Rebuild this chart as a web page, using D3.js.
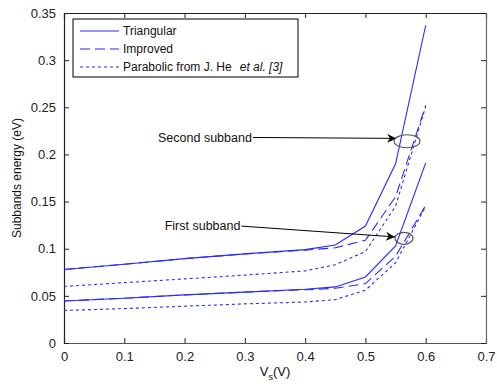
<!DOCTYPE html>
<html><head><meta charset="utf-8">
<script src="https://cdn.jsdelivr.net/npm/d3@7"></script>
<style>body{margin:0;background:#fff;} svg{display:block;font-family:"Liberation Sans",Arial,sans-serif;}</style>
</head><body><svg id="c" width="497" height="384"></svg>
<script>
const vs = [0, 0.1, 0.2, 0.3, 0.4, 0.45, 0.5, 0.55, 0.6];
const triSecond = [0.078, 0.0835, 0.0895, 0.0945, 0.099, 0.104, 0.124, 0.190, 0.337];
const triFirst  = [0.0445, 0.0475, 0.051, 0.054, 0.057, 0.0595, 0.070, 0.103, 0.191];
const impSecond = [0.078, 0.0835, 0.0895, 0.0945, 0.0985, 0.101, 0.109, 0.155, 0.252];
const impFirst  = [0.0445, 0.0475, 0.051, 0.054, 0.0565, 0.058, 0.063, 0.092, 0.146];
const parSecond = [0.060, 0.064, 0.068, 0.072, 0.0765, 0.083, 0.097, 0.145, 0.251];
const parFirst  = [0.0345, 0.0365, 0.039, 0.0415, 0.0435, 0.046, 0.056, 0.085, 0.145];
const xTicks = [0, 0.1, 0.2, 0.3, 0.4, 0.5, 0.6, 0.7];
const yTicks = [0, 0.05, 0.1, 0.15, 0.2, 0.25, 0.3, 0.35];
const legendLabels = ["Triangular", "Improved", "Parabolic from J. He"];
const annotations = [
  {text: "Second subband", tx: 0.156, ty: 0.218, ax: 0.551, ay: 0.217, cx: 0.569, cy: 0.214, rx: 13, ry: 6.5},
  {text: "First subband", tx: 0.167, ty: 0.124, ax: 0.549, ay: 0.1125, cx: 0.564, cy: 0.111, rx: 9, ry: 6}
];

const svg = d3.select("#c");
const L = 64, R = 486, T = 13, B = 343;
const x = d3.scaleLinear().domain([0, 0.7]).range([L, R]);
const y = d3.scaleLinear().domain([0, 0.35]).range([B, T]);
const blue = "#2a2aff";

const fmt = d => d === 0 ? "0" : d3.format("")(+d.toFixed(2));
const gx = svg.append("g").attr("transform", `translate(0,${B})`)
  .call(d3.axisBottom(x).tickValues(xTicks).tickSize(-5).tickPadding(9).tickFormat(fmt));
const gxt = svg.append("g").attr("transform", `translate(0,${T})`)
  .call(d3.axisTop(x).tickValues(xTicks).tickSize(-5).tickFormat(""));
const gy = svg.append("g").attr("transform", `translate(${L},0)`)
  .call(d3.axisLeft(y).tickValues(yTicks).tickSize(-5).tickPadding(8).tickFormat(fmt));
const gyr = svg.append("g").attr("transform", `translate(${R},0)`)
  .call(d3.axisRight(y).tickValues(yTicks).tickSize(-5).tickFormat(""));
[gx, gxt, gy, gyr].forEach(g => {
  g.select(".domain").attr("stroke", "#222").attr("stroke-width", 1.2);
  g.selectAll(".tick line").attr("stroke", "#222");
  g.selectAll("text").attr("font-size", 13).attr("fill", "#222")
   .attr("font-family", '"Liberation Sans",Arial,sans-serif');
});
gyr.select(".domain").attr("stroke", "#666");
gx.select(".domain").attr("stroke", "#555");

const line = d3.line().x((d, i) => x(vs[i])).y(d => y(d));
const series = [
  {v: triSecond, dash: null}, {v: triFirst, dash: null},
  {v: impSecond, dash: "10,5"}, {v: impFirst, dash: "10,5"},
  {v: parSecond, dash: "3,3"}, {v: parFirst, dash: "3,3"}
];
series.forEach(s => {
  svg.append("path").attr("d", line(s.v)).attr("fill", "none")
    .attr("stroke", blue).attr("stroke-width", 1.1)
    .attr("stroke-dasharray", s.dash);
});

svg.append("defs").append("marker").attr("id", "ah").attr("viewBox", "0 0 10 10")
  .attr("refX", 10).attr("refY", 5).attr("markerWidth", 12).attr("markerHeight", 9)
  .attr("markerUnits", "userSpaceOnUse").attr("orient", "auto")
  .append("path").attr("d", "M0,0 L10,5 L0,10 L3,5 Z").attr("fill", "#000");
annotations.forEach(a => {
  const t = svg.append("text").attr("x", x(a.tx)).attr("y", y(a.ty)).attr("dy", "0.35em")
    .attr("font-size", 12.5).attr("fill", "#111").text(a.text);
  const w = t.node().getComputedTextLength();
  svg.append("line").attr("x1", x(a.tx) + w + 1).attr("y1", y(a.ty))
    .attr("x2", x(a.ax)).attr("y2", y(a.ay)).attr("stroke", "#000").attr("stroke-width", 1)
    .attr("marker-end", "url(#ah)");
  svg.append("ellipse").attr("cx", x(a.cx)).attr("cy", y(a.cy)).attr("rx", a.rx).attr("ry", a.ry)
    .attr("fill", "none").attr("stroke", "#555").attr("stroke-width", 1.2);
});

const lg = svg.append("g");
lg.append("rect").attr("x", 73).attr("y", 19).attr("width", 225).attr("height", 58)
  .attr("fill", "#fff").attr("stroke", "#000").attr("stroke-width", 1);
const dashes = [null, "10,5", "3,3"];
legendLabels.forEach((lab, i) => {
  const yy = 31 + i * 18;
  lg.append("line").attr("x1", 80).attr("x2", 119).attr("y1", yy).attr("y2", yy)
    .attr("stroke", blue).attr("stroke-width", 1.1).attr("stroke-dasharray", dashes[i]);
  const t = lg.append("text").attr("x", 123).attr("y", yy).attr("dy", "0.35em")
    .attr("font-size", 12).attr("fill", "#111").text(lab);
  if (i === 2) {
    t.append("tspan").attr("dx", 8).attr("font-style", "italic").text("et al. [3]");
  }
});

svg.append("text").attr("transform", `translate(21,${(T + B) / 2}) rotate(-90)`)
  .attr("text-anchor", "middle").attr("font-size", 12).attr("fill", "#111")
  .text("Subbands energy (eV)");
const xl = svg.append("text").attr("x", x(0.35)).attr("y", 376).attr("text-anchor", "middle")
  .attr("font-size", 13).attr("fill", "#111");
xl.append("tspan").text("V");
xl.append("tspan").attr("font-size", 9).attr("dy", 4).text("s");
xl.append("tspan").attr("dy", -4).text("(V)");
</script></body></html>
